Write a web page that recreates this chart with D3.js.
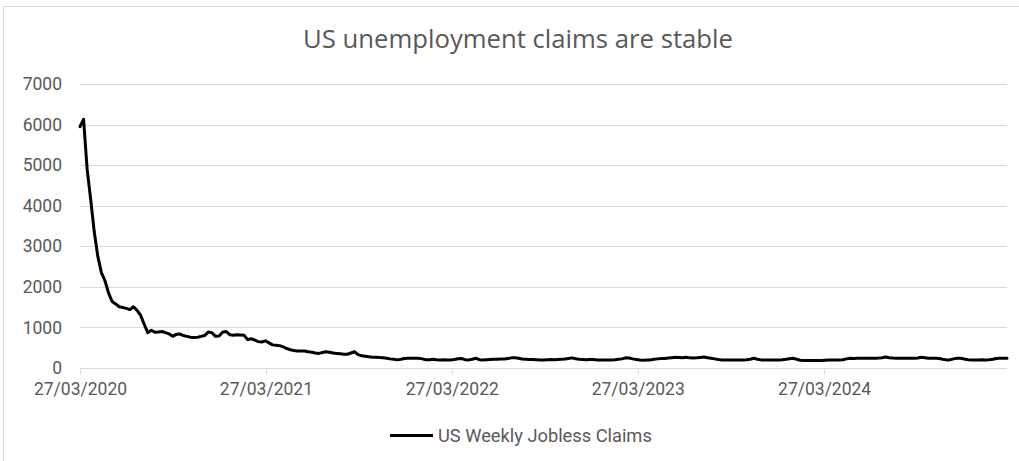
<!DOCTYPE html>
<html>
<head>
<meta charset="utf-8">
<script src="https://cdn.jsdelivr.net/npm/d3@7"></script>
<style>
  html, body { margin: 0; padding: 0; background: #fff; }
  svg { display: block; }
</style>
</head>
<body>
<div id="chart"></div>
<script>
// ---- Data ----
const titleText = "US unemployment claims are stable";
const seriesName = "US Weekly Jobless Claims";
const firstWeek = "2020-03-27";   // weekly observations start here
const claims = [
  5950,6130,4900,4150,3350,2750,2350,2150,1850,1640,
  1580,1510,1490,1470,1440,1510,1420,1300,1080,870,
  930,880,890,900,870,840,780,830,840,800,
  780,760,750,760,780,800,890,870,780,790,
  880,900,820,810,820,815,810,700,720,690,
  650,640,670,620,570,560,550,520,480,450,
  430,420,420,420,400,390,370,360,380,400,
  390,370,360,350,340,340,370,400,330,300,
  290,275,265,262,258,255,240,225,215,200,
  215,235,240,240,240,238,225,205,205,215,
  205,200,205,200,200,210,230,235,205,200,
  215,240,205,200,205,210,215,215,220,220,
  235,250,255,240,220,215,210,210,205,200,
  200,205,210,205,210,215,220,235,250,230,
  215,210,205,210,210,200,195,195,200,200,
  205,215,225,250,245,225,210,195,190,195,
  200,215,225,235,235,245,255,265,260,255,
  265,250,245,250,260,270,255,240,225,210,
  200,200,200,200,200,200,200,205,215,240,
  215,200,200,200,200,200,200,205,215,230,
  240,215,190,185,185,185,185,185,185,190,
  195,200,200,200,205,225,240,235,240,240,
  240,240,240,240,245,255,270,255,245,240,
  240,240,240,240,240,245,265,255,240,240,
  240,235,215,200,205,225,240,240,220,205,
  200,200,200,205,200,205,215,235,240,240,
  240
];
const yTicks = [0, 1000, 2000, 3000, 4000, 5000, 6000, 7000];
const xTickDates = ["2020-03-27", "2021-03-27", "2022-03-27", "2023-03-27", "2024-03-27"];

// ---- Layout ----
const W = 1019, H = 461;
const plot = { left: 80, right: 1007, top: 84, bottom: 368 };
const textColor = "#595959";
const gridColor = "#d9d9d9";

const parse = d3.timeParse("%Y-%m-%d");
const start = parse(firstWeek);
const data = claims.map((v, i) => ({ date: d3.timeDay.offset(start, 7 * i), value: v }));

const svg = d3.select("#chart").append("svg").attr("width", W).attr("height", H);

// chart-area border
svg.append("rect")
  .attr("x", 3.5).attr("y", 6.5).attr("width", W + 10).attr("height", H + 10)
  .attr("fill", "none").attr("stroke", gridColor).attr("stroke-width", 1);

const x = d3.scaleTime()
  .domain([start, data[data.length - 1].date])
  .range([plot.left, plot.right]);
const y = d3.scaleLinear().domain([0, 7000]).range([plot.bottom, plot.top]);

// gridlines
svg.append("g").selectAll("line").data(yTicks.filter(d => d > 0)).join("line")
  .attr("x1", plot.left).attr("x2", plot.right)
  .attr("y1", d => Math.round(y(d)) + 0.5).attr("y2", d => Math.round(y(d)) + 0.5)
  .attr("stroke", gridColor).attr("stroke-width", 1);

// y axis labels
const yAxis = d3.axisLeft(y).tickValues(yTicks).tickSize(0).tickPadding(18).tickFormat(d3.format("d"));
const gy = svg.append("g").attr("transform", `translate(${plot.left},0)`).call(yAxis);
gy.select(".domain").remove();
gy.selectAll("text").attr("fill", textColor)
  .style("font-family", "Roboto, sans-serif").style("font-size", "17.5px");

// x axis
const xAxis = d3.axisBottom(x).tickValues(xTickDates.map(parse))
  .tickSize(6).tickPadding(8).tickFormat(d3.timeFormat("%d/%m/%Y"));
const gx = svg.append("g").attr("transform", `translate(0,${Math.round(plot.bottom) + 0.5})`).call(xAxis);
gx.select(".domain").attr("d", `M${plot.left},0H${plot.right}`).attr("stroke", gridColor);
gx.selectAll(".tick line").attr("stroke", gridColor);
gx.selectAll("text").attr("fill", textColor)
  .style("font-family", "Roboto, sans-serif").style("font-size", "17.5px");
// first tick sits at the left end
gx.selectAll(".tick").filter((d, i) => i === 0).select("line").attr("stroke", gridColor);

// line
const line = d3.line().x(d => x(d.date)).y(d => y(d.value)).curve(d3.curveLinear);
svg.append("path").datum(data)
  .attr("d", line)
  .attr("fill", "none").attr("stroke", "#000").attr("stroke-width", 3)
  .attr("stroke-linejoin", "round").attr("stroke-linecap", "round");

// title
const title = svg.append("text")
  .attr("x", 518).attr("y", 48).attr("text-anchor", "middle")
  .attr("fill", textColor)
  .style("font-family", "'Open Sans', sans-serif").style("font-size", "20px")
  .text(titleText);
const tw = title.node().getComputedTextLength();
title.style("font-size", (20 * 430 / tw).toFixed(2) + "px");

// legend
const lg = svg.append("g");
lg.append("line").attr("x1", 390).attr("x2", 433).attr("y1", 435.5).attr("y2", 435.5)
  .attr("stroke", "#000").attr("stroke-width", 3);
const lt = lg.append("text").attr("x", 438).attr("y", 441.5)
  .attr("fill", textColor)
  .style("font-family", "Roboto, sans-serif").style("font-size", "17px")
  .text(seriesName);
const lw = lt.node().getComputedTextLength();
lt.style("font-size", (17 * 214 / lw).toFixed(2) + "px");
</script>
</body>
</html>
